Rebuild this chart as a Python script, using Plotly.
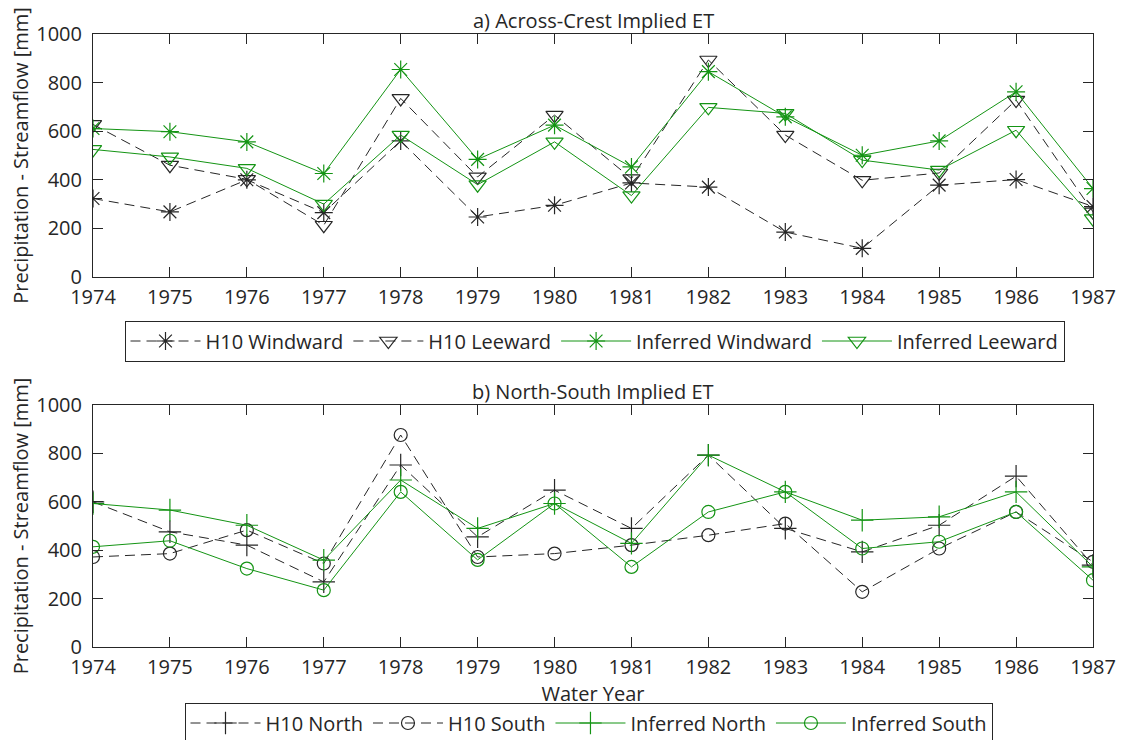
import plotly.graph_objects as go

# Water years shown on both panels
years = list(range(1974, 1988))
year_labels = [str(y) for y in years]

# a) Across-crest implied ET [mm]
h10_windward = [323, 268, 400, 265, 560, 247, 295, 387, 370, 185, 118, 378, 401, 290]
h10_leeward = [628, 460, 402, 213, 735, 412, 666, 405, 893, 584, 398, 428, 728, 268]
inferred_windward = [611, 598, 556, 426, 854, 484, 625, 453, 845, 659, 501, 560, 762, 364]
inferred_leeward = [525, 494, 447, 300, 584, 380, 556, 335, 698, 673, 481, 440, 604, 240]

# b) North-south implied ET [mm]
h10_north = [600, 476, 421, 269, 752, 455, 648, 490, 793, 490, 393, 503, 706, 338]
h10_south = [372, 386, 483, 345, 876, 372, 386, 421, 462, 510, 228, 407, 558, 352]
inferred_north = [593, 566, 503, 359, 690, 490, 593, 428, 793, 641, 524, 538, 641, 331]
inferred_south = [414, 439, 324, 235, 641, 360, 593, 331, 558, 641, 407, 435, 558, 276]

y_ticks = [0, 200, 400, 600, 800, 1000]

INK = "#262626"
GREEN = "#149414"
DASH = "10px,6px"
FONT = "Open Sans"
FS = 20
W, H = 1122, 740

# plot area in pixels: left/right/top/bottom edges
PL, PR, PT, PB = 93, 1093, 34, 647
PW, PH = PR - PL, PB - PT


def fx(px):
    return (px - PL) / PW


def fy(py):
    return (PB - py) / PH


fig = go.Figure()


def add_series(x, y, name, color, dash, symbol, size, xa, ya, legend):
    fig.add_trace(go.Scatter(
        x=x, y=y, name=name, mode="lines+markers",
        line=dict(color=color, width=1, dash=dash),
        marker=dict(symbol=symbol, size=size, color=color,
                    line=dict(color=color, width=1.2)),
        xaxis=xa, yaxis=ya, legend=legend,
    ))


add_series(years, h10_windward, "H10 Windward", INK, DASH, "asterisk-open", 15, "x", "y", "legend")
add_series(years, h10_leeward, "H10 Leeward", INK, DASH, "triangle-down-open", 15, "x", "y", "legend")
add_series(years, inferred_windward, "Inferred Windward", GREEN, "solid", "asterisk-open", 15, "x", "y", "legend")
add_series(years, inferred_leeward, "Inferred Leeward", GREEN, "solid", "triangle-down-open", 15, "x", "y", "legend")

add_series(years, h10_north, "H10 North", INK, DASH, "cross-thin-open", 16, "x2", "y2", "legend2")
add_series(years, h10_south, "H10 South", INK, DASH, "circle-open", 13, "x2", "y2", "legend2")
add_series(years, inferred_north, "Inferred North", GREEN, "solid", "cross-thin-open", 16, "x2", "y2", "legend2")
add_series(years, inferred_south, "Inferred South", GREEN, "solid", "circle-open", 13, "x2", "y2", "legend2")

top_dom = [fy(277), 1.0]
bot_dom = [0.0, fy(405)]

common_x = dict(
    range=[1974, 1987], tickvals=years, ticktext=year_labels,
    ticks="inside", ticklen=10, tickwidth=1, tickcolor=INK,
    showline=True, linecolor=INK, linewidth=1, mirror="ticks",
    showgrid=False, zeroline=False, automargin=False, ticklabelstandoff=2,
    tickfont=dict(family=FONT, size=FS, color=INK),
)
common_y = dict(
    range=[0, 1000], tickvals=y_ticks,
    ticks="inside", ticklen=10, tickwidth=1, tickcolor=INK,
    showline=True, linecolor=INK, linewidth=1, mirror="ticks",
    showgrid=False, zeroline=False, automargin=False, ticklabelstandoff=6,
    tickfont=dict(family=FONT, size=FS, color=INK),
    title=dict(text="Precipitation - Streamflow [mm]",
               font=dict(family=FONT, size=FS, color=INK), standoff=2),
)

legend_common = dict(
    orientation="h", xanchor="center", yanchor="middle",
    bgcolor="white", bordercolor=INK, borderwidth=1,
    font=dict(family=FONT, size=FS, color=INK),
    itemwidth=70, tracegroupgap=0,
)

fig.update_layout(
    width=W, height=H, autosize=False,
    margin=dict(l=PL, r=W - PR, t=PT, b=H - PB, autoexpand=False),
    paper_bgcolor="white", plot_bgcolor="white",
    font=dict(family=FONT, size=FS, color=INK),
    xaxis=dict(domain=[0, 1], anchor="y", **common_x),
    yaxis=dict(domain=top_dom, anchor="x", **common_y),
    xaxis2=dict(domain=[0, 1], anchor="y2",
                title=dict(text="Water Year", font=dict(family=FONT, size=FS, color=INK), standoff=0),
                **common_x),
    yaxis2=dict(domain=bot_dom, anchor="x2", **common_y),
    legend=dict(x=fx((113 + 1076) / 2), y=fy(341), **legend_common),
    legend2=dict(x=fx((175 + 1002) / 2), y=fy(723), **legend_common),
    annotations=[
        dict(text="a) Across-Crest Implied ET", x=0.5, y=top_dom[1],
             xref="paper", yref="paper", xanchor="center", yanchor="bottom",
             showarrow=False, yshift=-2, font=dict(family=FONT, size=FS, color=INK)),
        dict(text="b) North-South Implied ET", x=0.5, y=bot_dom[1],
             xref="paper", yref="paper", xanchor="center", yanchor="bottom",
             showarrow=False, yshift=-2, font=dict(family=FONT, size=FS, color=INK)),
    ],
)

fig.write_html("out.html")
